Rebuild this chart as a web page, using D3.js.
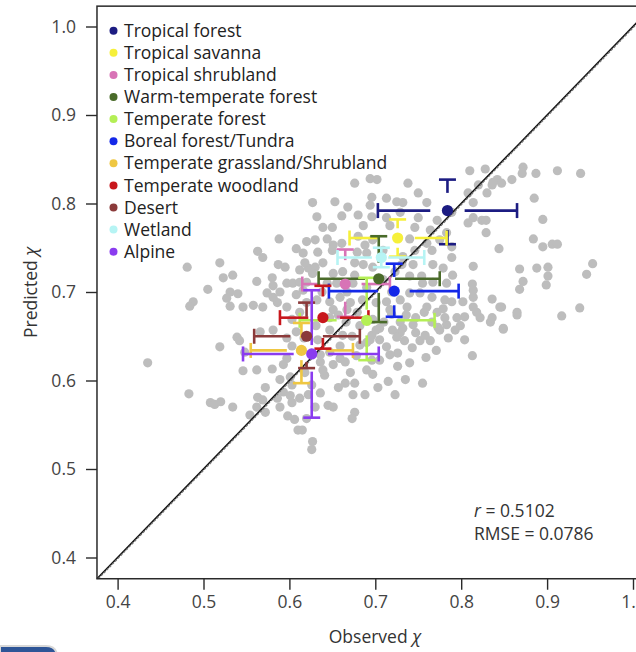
<!DOCTYPE html>
<html>
<head>
<meta charset="utf-8">
<script src="https://cdn.jsdelivr.net/npm/d3@7"></script>
<style>
  html, body { margin: 0; padding: 0; background: #fff; }
  svg { display: block; }
  text { font-family: "Open Sans", "Noto Sans", sans-serif; }
</style>
</head>
<body>
<div id="chart"></div>
<script>
// biome summary: mean observed / predicted chi and whiskers [lo, innerLo, innerHi, hi]
const biomes = ["Tropical forest", "Tropical savanna", "Tropical shrubland", "Warm-temperate forest",
  "Temperate forest", "Boreal forest/Tundra", "Temperate grassland/Shrubland", "Temperate woodland",
  "Desert", "Wetland", "Alpine"];
const biomeColors = ["#1c1c82", "#f6f03a", "#d873b6", "#4a6b2a", "#b4ef55", "#1428e8",
  "#efc742", "#c8171c", "#8b3a3a", "#b6f4f4", "#8a3cef"];
const obsMean = [0.784, 0.726, 0.665, 0.704, 0.690, 0.722, 0.614, 0.639, 0.620, 0.707, 0.626];
const predMean = [0.792, 0.761, 0.709, 0.715, 0.668, 0.701, 0.634, 0.671, 0.650, 0.739, 0.630];
const obsWhisker = [
  [0.703, 0.764, 0.804, 0.865], [0.670, 0.705, 0.746, 0.783], [0.615, 0.636, 0.684, 0.717],
  [0.634, 0.688, 0.723, 0.775], [0.612, 0.655, 0.725, 0.769], [0.646, 0.703, 0.740, 0.797],
  [0.555, 0.597, 0.643, 0.674], [0.589, 0.622, 0.659, 0.692], [0.559, 0.601, 0.639, 0.682],
  [0.656, 0.696, 0.715, 0.757], [0.546, 0.605, 0.645, 0.704]];
const predWhisker = [
  [0.754, 0.770, 0.812, 0.827], [0.740, 0.750, 0.772, 0.782], [0.672, 0.689, 0.736, 0.748],
  [0.666, 0.699, 0.733, 0.763], [0.623, 0.651, 0.680, 0.716], [0.672, 0.685, 0.717, 0.732],
  [0.597, 0.623, 0.648, 0.665], [0.636, 0.648, 0.695, 0.707], [0.614, 0.621, 0.672, 0.688],
  [0.728, 0.733, 0.745, 0.750], [0.558, 0.610, 0.640, 0.702]];

// individual sites [observed, predicted]
const sites = [
  [0.588,0.760],[0.608,0.749],[0.563,0.746],[0.569,0.739],[0.587,0.731],[0.595,0.728],[0.481,0.728],
  [0.519,0.733],[0.534,0.719],[0.523,0.716],[0.562,0.712],[0.580,0.716],[0.597,0.710],[0.581,0.707],
  [0.505,0.703],[0.531,0.700],[0.540,0.698],[0.527,0.693],[0.488,0.689],[0.484,0.684],[0.531,0.684],
  [0.546,0.683],[0.558,0.685],[0.569,0.683],[0.586,0.688],[0.597,0.683],[0.581,0.694],[0.589,0.700],
  [0.612,0.725],[0.622,0.727],[0.630,0.728],[0.574,0.699],[0.604,0.710],[0.435,0.620],[0.483,0.585],
  [0.508,0.575],[0.513,0.573],[0.520,0.576],[0.534,0.570],[0.519,0.638],[0.539,0.649],[0.542,0.645],
  [0.546,0.611],[0.562,0.612],[0.580,0.613],[0.597,0.625],[0.566,0.655],[0.581,0.657],[0.597,0.648],
  [0.572,0.592],[0.563,0.581],[0.569,0.578],[0.562,0.570],[0.554,0.561],[0.572,0.564],[0.586,0.580],
  [0.593,0.587],[0.601,0.583],[0.603,0.575],[0.589,0.570],[0.598,0.560],[0.606,0.556],[0.610,0.544],
  [0.593,0.618],[0.601,0.604],[0.589,0.601],[0.603,0.595],[0.548,0.632],[0.676,0.597],[0.665,0.597],
  [0.674,0.584],[0.676,0.564],[0.673,0.557],[0.697,0.607],[0.715,0.599],[0.755,0.597],[0.726,0.631],
  [0.743,0.637],[0.752,0.645],[0.758,0.651],[0.773,0.660],[0.636,0.586],[0.645,0.572],[0.630,0.570],
  [0.620,0.557],[0.622,0.584],[0.615,0.544],[0.627,0.531],[0.626,0.522],[0.641,0.606],[0.639,0.612],
  [0.671,0.609],[0.651,0.618],[0.659,0.625],[0.636,0.621],[0.690,0.643],[0.713,0.638],[0.720,0.657],
  [0.732,0.659],[0.744,0.663],[0.705,0.659],[0.696,0.651],[0.651,0.570],[0.690,0.612],[0.705,0.623],
  [0.729,0.654],[0.694,0.646],[0.804,0.672],[0.822,0.671],[0.834,0.666],[0.849,0.658],[0.813,0.628],
  [0.917,0.673],[0.865,0.674],[0.810,0.837],[0.828,0.839],[0.872,0.841],[0.871,0.834],[0.887,0.834],
  [0.912,0.837],[0.939,0.834],[0.837,0.824],[0.842,0.827],[0.847,0.823],[0.836,0.821],[0.859,0.827],
  [0.820,0.821],[0.830,0.812],[0.808,0.812],[0.814,0.801],[0.885,0.806],[0.895,0.782],[0.814,0.784],
  [0.808,0.778],[0.824,0.781],[0.829,0.781],[0.829,0.767],[0.884,0.760],[0.895,0.751],[0.906,0.754],
  [0.912,0.754],[0.844,0.749],[0.814,0.729],[0.868,0.726],[0.888,0.727],[0.901,0.728],[0.901,0.718],
  [0.953,0.732],[0.946,0.720],[0.872,0.712],[0.868,0.703],[0.899,0.708],[0.813,0.709],[0.814,0.702],
  [0.836,0.692],[0.847,0.683],[0.865,0.677],[0.938,0.682],[0.802,0.689],[0.818,0.677],[0.676,0.823],
  [0.694,0.828],[0.702,0.827],[0.738,0.823],[0.696,0.807],[0.713,0.806],[0.725,0.802],[0.732,0.801],
  [0.750,0.812],[0.760,0.801],[0.627,0.801],[0.653,0.802],[0.668,0.796],[0.632,0.785],[0.661,0.786],
  [0.694,0.798],[0.696,0.785],[0.713,0.784],[0.750,0.784],[0.772,0.781],[0.789,0.790],[0.686,0.775],
  [0.717,0.775],[0.746,0.773],[0.620,0.757],[0.630,0.759],[0.644,0.760],[0.651,0.753],[0.661,0.755],
  [0.680,0.763],[0.688,0.753],[0.697,0.759],[0.740,0.760],[0.760,0.755],[0.766,0.747],[0.789,0.751],
  [0.789,0.739],[0.616,0.744],[0.633,0.745],[0.650,0.747],[0.679,0.745],[0.690,0.744],[0.709,0.747],
  [0.732,0.740],[0.746,0.747],[0.618,0.733],[0.639,0.733],[0.676,0.733],[0.686,0.731],[0.697,0.728],
  [0.731,0.731],[0.744,0.731],[0.767,0.731],[0.779,0.727],[0.790,0.719],[0.627,0.721],[0.651,0.721],
  [0.662,0.723],[0.676,0.719],[0.740,0.718],[0.754,0.718],[0.767,0.711],[0.783,0.710],[0.620,0.711],
  [0.644,0.710],[0.655,0.710],[0.674,0.710],[0.690,0.705],[0.740,0.699],[0.752,0.699],[0.766,0.694],
  [0.781,0.691],[0.789,0.689],[0.729,0.691],[0.713,0.689],[0.659,0.694],[0.647,0.689],[0.632,0.691],
  [0.671,0.688],[0.620,0.688],[0.651,0.680],[0.667,0.680],[0.737,0.683],[0.760,0.683],[0.779,0.681],
  [0.814,0.694],[0.814,0.683],[0.836,0.671],[0.845,0.683],[0.849,0.659],[0.783,0.663],[0.795,0.671],
  [0.775,0.657],[0.725,0.649],[0.612,0.677],[0.603,0.669],[0.631,0.662],[0.608,0.655],[0.617,0.648],
  [0.647,0.671],[0.666,0.666],[0.673,0.650],[0.682,0.662],[0.701,0.657],[0.710,0.666],[0.719,0.675],
  [0.729,0.666],[0.747,0.671],[0.757,0.677],[0.766,0.666],[0.705,0.646],[0.682,0.640],[0.659,0.639],
  [0.647,0.632],[0.636,0.629],[0.603,0.639],[0.717,0.680],[0.772,0.677],[0.793,0.657],[0.804,0.646],
  [0.647,0.657],[0.662,0.651],[0.608,0.697],[0.616,0.702],
  [0.734,0.645],[0.747,0.654],[0.764,0.645],[0.785,0.648],[0.799,0.662],[0.771,0.634],[0.759,0.626],
  [0.717,0.629],[0.726,0.616],[0.740,0.620],[0.696,0.623],[0.678,0.628],[0.665,0.621],[0.618,0.609],
  [0.626,0.595],[0.612,0.580],[0.657,0.592],[0.688,0.584],[0.703,0.592],[0.723,0.584],[0.735,0.601],
  [0.657,0.674],[0.679,0.677],[0.697,0.669],[0.736,0.674],[0.781,0.671],[0.633,0.646],[0.685,0.691],
  [0.701,0.688],[0.719,0.700],[0.755,0.710],[0.723,0.723],[0.709,0.714],[0.667,0.700],[0.638,0.700],
  [0.612,0.711],[0.764,0.770],[0.775,0.759],[0.783,0.767],[0.729,0.790],[0.680,0.787],[0.650,0.773],
  [0.639,0.773]];

const tickValues = [0.4, 0.5, 0.6, 0.7, 0.8, 0.9, 1.0];
const statLines = ["= 0.5102", "RMSE = 0.0786"];

const W = 636, H = 652;
const lo = 0.376, hi = 1.023;
const fs = 17.5;

const x = d3.scaleLinear().domain([0.4, 1.0]).range([117.6, 633]);
const y = d3.scaleLinear().domain([0.4, 1.0]).range([557.5, 26.5]);

const svg = d3.select("#chart").append("svg")
  .attr("width", W).attr("height", H);

svg.append("rect").attr("width", W).attr("height", H).attr("fill", "#fff");

// grey site points
svg.append("g").selectAll("circle").data(sites).join("circle")
  .attr("cx", d => x(d[0]))
  .attr("cy", d => y(d[1]))
  .attr("r", 4.6)
  .attr("fill", "#bdbdbd");

// 1:1 line with the dashed fit drawn on top of it
svg.append("line")
  .attr("x1", x(lo)).attr("y1", y(lo)).attr("x2", x(hi)).attr("y2", y(hi))
  .attr("stroke", "#111").attr("stroke-width", 1.6);
svg.append("line")
  .attr("x1", x(lo) + 1.3).attr("y1", y(lo)).attr("x2", x(hi) + 1.3).attr("y2", y(hi))
  .attr("stroke", "#777").attr("stroke-width", 1.3).attr("stroke-dasharray", "2.5,1.5");

// error bars
const bars = svg.append("g").attr("stroke-width", 2.6).attr("fill", "none");
biomes.forEach((b, i) => {
  const c = biomeColors[i];
  const ow = obsWhisker[i], pw = predWhisker[i];
  const py = y(predMean[i]), px = x(obsMean[i]);
  const g = bars.append("g").attr("stroke", c);
  // horizontal
  g.append("line").attr("x1", x(ow[0])).attr("x2", x(ow[1])).attr("y1", py).attr("y2", py);
  g.append("line").attr("x1", x(ow[2])).attr("x2", x(ow[3])).attr("y1", py).attr("y2", py);
  [ow[0], ow[3]].forEach(v => g.append("line")
    .attr("x1", x(v)).attr("x2", x(v)).attr("y1", py - 7.5).attr("y2", py + 7.5));
  // vertical
  g.append("line").attr("x1", px).attr("x2", px).attr("y1", y(pw[0])).attr("y2", y(pw[1]));
  g.append("line").attr("x1", px).attr("x2", px).attr("y1", y(pw[2])).attr("y2", y(pw[3]));
  [pw[0], pw[3]].forEach(v => g.append("line")
    .attr("x1", px - 8.5).attr("x2", px + 8.5).attr("y1", y(v)).attr("y2", y(v)));
});

// biome means
svg.append("g").selectAll("circle").data(biomes).join("circle")
  .attr("cx", (d, i) => x(obsMean[i]))
  .attr("cy", (d, i) => y(predMean[i]))
  .attr("r", 5.6)
  .attr("fill", (d, i) => biomeColors[i]);

// frame
svg.append("rect")
  .attr("x", x(lo)).attr("y", y(hi))
  .attr("width", x(hi) - x(lo)).attr("height", y(lo) - y(hi))
  .attr("fill", "none").attr("stroke", "#2a2a2a").attr("stroke-width", 1.5);

// axes
const yAxis = svg.append("g").attr("transform", `translate(${x(lo)},0)`)
  .call(d3.axisLeft(y).tickValues(tickValues).tickFormat(d3.format(".1f"))
    .tickSize(11).tickPadding(10).tickSizeOuter(0));
const xAxis = svg.append("g").attr("transform", `translate(0,${y(lo)})`)
  .call(d3.axisBottom(x).tickValues(tickValues).tickFormat(d3.format(".1f"))
    .tickSize(11).tickPadding(6).tickSizeOuter(0));
[xAxis, yAxis].forEach(a => {
  a.select(".domain").remove();
  a.selectAll(".tick line").attr("stroke", "#2a2a2a").attr("stroke-width", 1.4);
  a.selectAll(".tick text").attr("fill", "#444").attr("font-size", fs)
    .attr("font-family", "'Open Sans', sans-serif");
});

// axis titles
const xt = svg.append("text")
  .attr("x", (x(lo) + x(hi)) / 2).attr("y", 643)
  .attr("text-anchor", "middle").attr("font-size", fs).attr("fill", "#333");
xt.append("tspan").text("Observed ");
xt.append("tspan").attr("font-style", "italic").text("χ");

const yt = svg.append("text")
  .attr("transform", `translate(37,${(y(lo) + y(hi)) / 2}) rotate(-90)`)
  .attr("text-anchor", "middle").attr("font-size", fs).attr("fill", "#333");
yt.append("tspan").text("Predicted ");
yt.append("tspan").attr("font-style", "italic").text("χ");

// legend
const leg = svg.append("g");
biomes.forEach((b, i) => {
  const ly = 30.7 + i * 22.1;
  leg.append("circle").attr("cx", 113.5).attr("cy", ly).attr("r", 4).attr("fill", biomeColors[i]);
  leg.append("text").attr("x", 124).attr("y", ly).attr("dy", "0.35em")
    .attr("font-size", fs).attr("fill", "#222").text(b);
});

// stats
const st = svg.append("text").attr("x", 474).attr("y", 517)
  .attr("font-size", fs).attr("fill", "#333");
st.append("tspan").attr("font-style", "italic").text("r");
st.append("tspan").text(" " + statLines[0]);
svg.append("text").attr("x", 474).attr("y", 540)
  .attr("font-size", fs).attr("fill", "#333").text(statLines[1]);

// bottom-left tab
svg.append("path")
  .attr("d", "M0,646 L46,646 Q57,646 57,657 L57,660 L0,660 Z")
  .attr("fill", "#2e5597").attr("stroke", "#d8d8d8").attr("stroke-width", 2);
</script>
</body>
</html>
